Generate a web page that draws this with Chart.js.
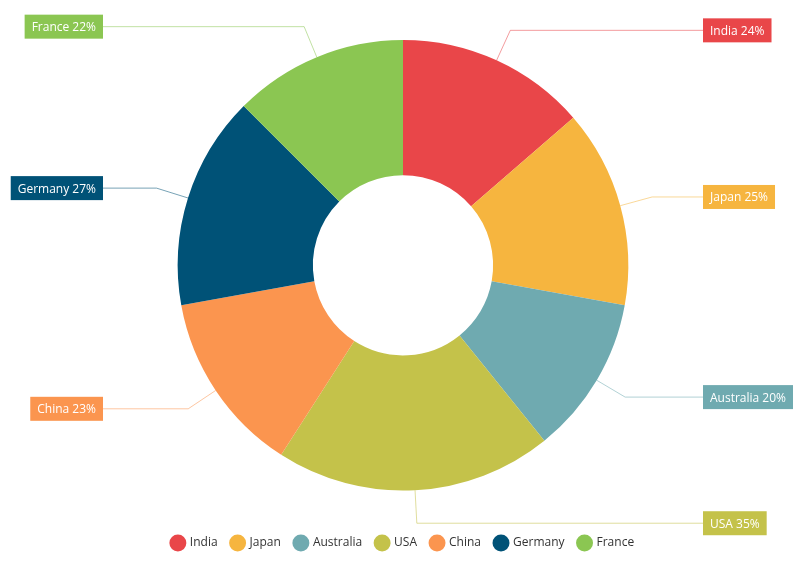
<!DOCTYPE html>
<html><head><meta charset="utf-8">
<script src="https://cdn.jsdelivr.net/npm/chart.js@4"></script>
<style>html,body{margin:0;padding:0;background:#fff}#w{width:810px;height:571px}</style>
</head><body><div id="w"><canvas id="c"></canvas></div>
<script>
const categories=['India','Japan','Australia','USA','China','Germany','France'];
const values=[24,25,20,35,23,27,22];
const colors=['#E94649','#F6B53F','#6FAAB0','#C4C24A','#FB954F','#005277','#8BC652'];
const FONT='"Segoe UI","Open Sans","Noto Sans",sans-serif';
const labelPlugin={id:'lbl',afterDatasetsDraw(chart){
  const ctx=chart.ctx;const meta=chart.getDatasetMeta(0);
  ctx.save();ctx.font='12px '+FONT;ctx.textBaseline='middle';
  meta.data.forEach((arc,i)=>{
    const a=(arc.startAngle+arc.endAngle)/2;const r=arc.outerRadius;
    const cx=arc.x,cy=arc.y;
    const x0=cx+Math.cos(a)*r,y0=cy+Math.sin(a)*r;
    const x1=cx+Math.cos(a)*(r+33),y1=cy+Math.sin(a)*(r+33);
    const right=Math.cos(a)>=0;
    const txt=categories[i]+' '+values[i]+'%';
    const tw=ctx.measureText(txt).width;const bw=tw+14,bh=24;
    const bx=right?cx+300:cx-300-bw;
    const lx=right?bx:bx+bw;
    ctx.strokeStyle=colors[i]+'88';ctx.lineWidth=1;
    ctx.beginPath();ctx.moveTo(x0,y0);ctx.lineTo(x1,y1);ctx.lineTo(lx,y1);ctx.stroke();
    ctx.fillStyle=colors[i];ctx.fillRect(bx,y1-bh/2,bw,bh);
    ctx.fillStyle='#fff';ctx.textAlign='left';ctx.fillText(txt,bx+7,y1+1);
  });ctx.restore();}};
new Chart(document.getElementById('c'),{type:'doughnut',
 data:{labels:categories,datasets:[{data:values,backgroundColor:colors,borderWidth:0,hoverOffset:0}]},
 options:{responsive:true,maintainAspectRatio:false,animation:false,cutout:'40%',
  layout:{padding:{top:40,bottom:12,left:0,right:4}},
  plugins:{tooltip:{enabled:false},
   legend:{position:'bottom',title:{display:true,text:' ',padding:{top:18,bottom:0},font:{size:12}},
    labels:{usePointStyle:true,pointStyle:'circle',boxWidth:12,boxHeight:12,padding:14,color:'#333',font:{size:12,family:FONT}}}}},
 plugins:[labelPlugin]});
</script></body></html>
